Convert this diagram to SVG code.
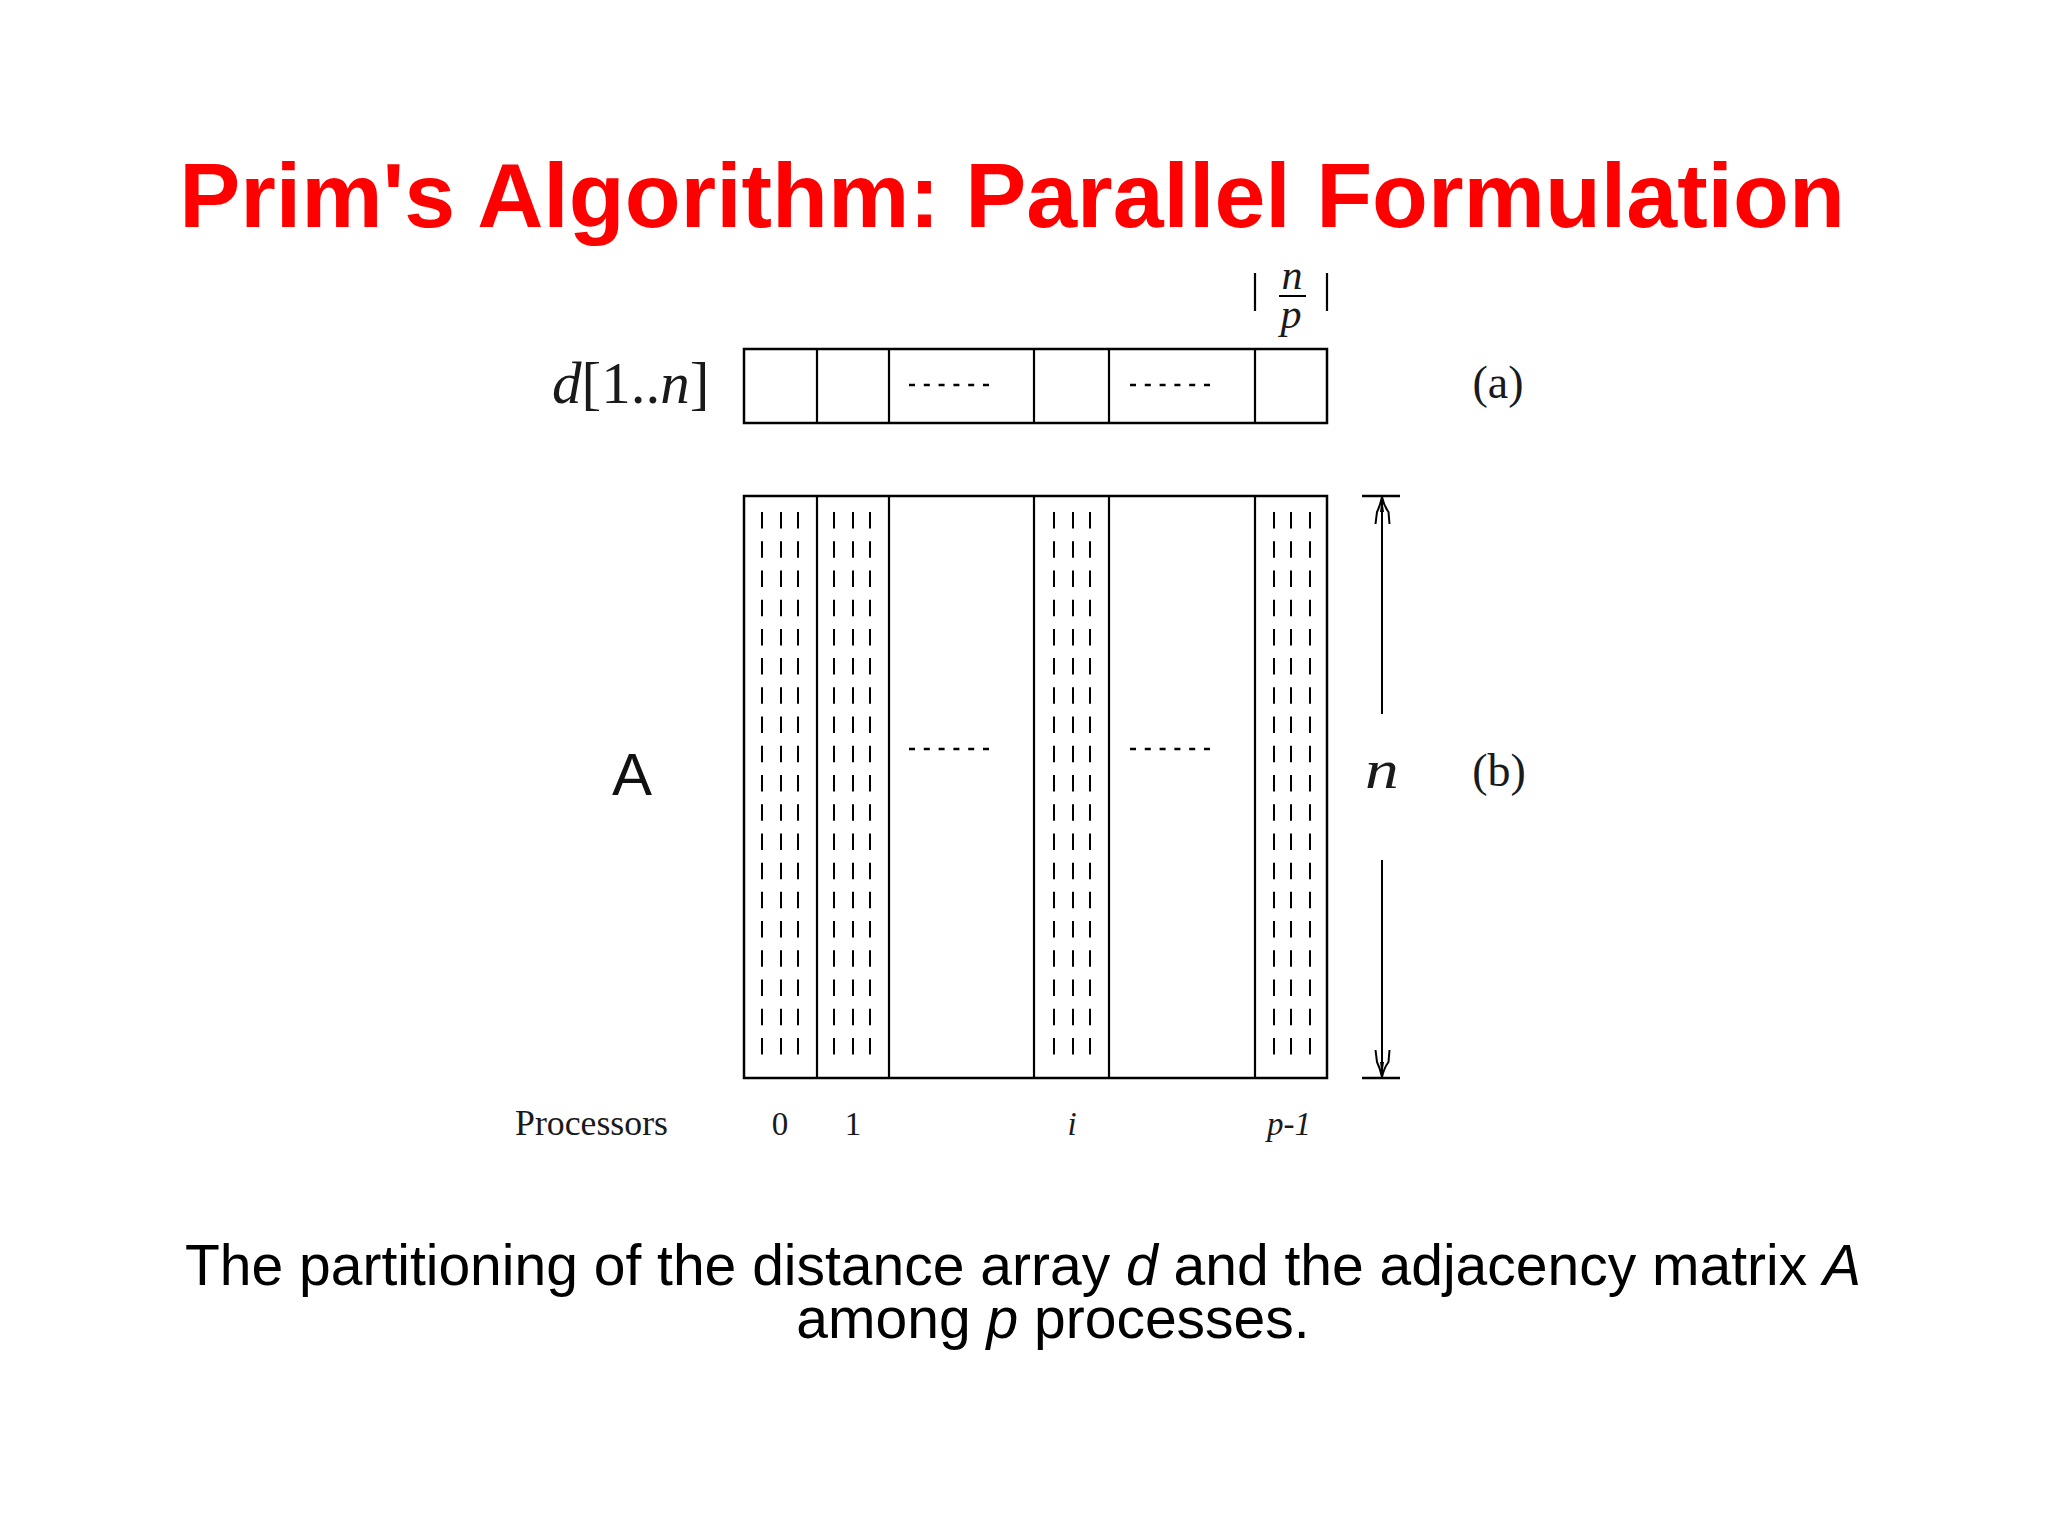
<svg xmlns="http://www.w3.org/2000/svg" width="2048" height="1536" viewBox="0 0 2048 1536">
<style>
.box{fill:none;stroke:#000;stroke-width:2.5}
.col{stroke:#000;stroke-width:2.2}
.vd{stroke:#000;stroke-width:2;stroke-dasharray:16.5 12.72}
.hd{stroke:#000;stroke-width:2.5;stroke-dasharray:6 8.8}
.serif{font-family:"Liberation Serif","DejaVu Serif",serif;fill:#1a1a1a}
.it{font-style:italic}
.sans{font-family:"Liberation Sans",Arial,sans-serif}
</style>
<rect width="2048" height="1536" fill="#fff"/>
<g id="title">
<text x="1012" y="227" class="sans" font-size="91.5" font-weight="bold" fill="#ff0000" text-anchor="middle">Prim's Algorithm: Parallel Formulation</text>
</g>
<g id="array-d">
<rect class="box" x="744" y="349" width="583" height="74"/>
<line class="col" x1="817" y1="349" x2="817" y2="423"/>
<line class="col" x1="889" y1="349" x2="889" y2="423"/>
<line class="col" x1="1034" y1="349" x2="1034" y2="423"/>
<line class="col" x1="1109" y1="349" x2="1109" y2="423"/>
<line class="col" x1="1255" y1="349" x2="1255" y2="423"/>
<line class="hd" x1="909" y1="385" x2="990" y2="385"/>
<line class="hd" x1="1130" y1="385" x2="1211" y2="385"/>
<text x="552" y="403" class="serif" font-size="59" fill="#333"><tspan class="it">d</tspan>[1..<tspan class="it">n</tspan>]</text>
<text x="1498" y="398" class="serif" font-size="46" text-anchor="middle">(a)</text>
</g>
<g id="block-size">
<line class="col" x1="1255" y1="273" x2="1255" y2="311" stroke-width="2"/>
<line class="col" x1="1327" y1="273" x2="1327" y2="311" stroke-width="2"/>
<text x="1292" y="289" class="serif it" font-size="42" text-anchor="middle">n</text>
<line x1="1279" y1="296" x2="1306" y2="296" stroke="#000" stroke-width="2"/>
<text x="1291" y="328" class="serif it" font-size="42" text-anchor="middle">p</text>
</g>
<g id="matrix-A">
<rect class="box" x="744" y="496" width="583" height="582"/>
<line class="col" x1="817" y1="496" x2="817" y2="1078"/>
<line class="col" x1="889" y1="496" x2="889" y2="1078"/>
<line class="col" x1="1034" y1="496" x2="1034" y2="1078"/>
<line class="col" x1="1109" y1="496" x2="1109" y2="1078"/>
<line class="col" x1="1255" y1="496" x2="1255" y2="1078"/>
<g id="col-0">
<line class="vd" x1="762" y1="512" x2="762" y2="1055"/>
<line class="vd" x1="781" y1="512" x2="781" y2="1055"/>
<line class="vd" x1="798" y1="512" x2="798" y2="1055"/>
</g>
<g id="col-1">
<line class="vd" x1="834" y1="512" x2="834" y2="1055"/>
<line class="vd" x1="853" y1="512" x2="853" y2="1055"/>
<line class="vd" x1="870" y1="512" x2="870" y2="1055"/>
</g>
<g id="col-i">
<line class="vd" x1="1054" y1="512" x2="1054" y2="1055"/>
<line class="vd" x1="1073" y1="512" x2="1073" y2="1055"/>
<line class="vd" x1="1090" y1="512" x2="1090" y2="1055"/>
</g>
<g id="col-p-1">
<line class="vd" x1="1274" y1="512" x2="1274" y2="1055"/>
<line class="vd" x1="1291" y1="512" x2="1291" y2="1055"/>
<line class="vd" x1="1310" y1="512" x2="1310" y2="1055"/>
</g>
<line class="hd" x1="909" y1="749" x2="990" y2="749"/>
<line class="hd" x1="1130" y1="749" x2="1211" y2="749"/>
<text x="632" y="795" class="sans" font-size="60" fill="#111" text-anchor="middle">A</text>
<text x="1499" y="786" class="serif" font-size="46" text-anchor="middle">(b)</text>
</g>
<g id="connectors">
<line x1="1362" y1="496" x2="1400" y2="496" stroke="#000" stroke-width="2.5"/>
<line x1="1362" y1="1078" x2="1400" y2="1078" stroke="#000" stroke-width="2.5"/>
<line x1="1382" y1="497" x2="1382" y2="714" stroke="#000" stroke-width="2"/>
<line x1="1382" y1="860" x2="1382" y2="1077" stroke="#000" stroke-width="2"/>
<path d="M1375.5,524 L1377,512 Q1380,506 1382,497 Q1384,506 1388.5,512 L1389.5,524" fill="none" stroke="#000" stroke-width="2"/>
<path d="M1380,512 L1382,498 L1384,512 Z" fill="#000"/>
<path d="M1375.5,1050 L1377,1062 Q1380,1068 1382,1077 Q1384,1068 1388.5,1062 L1389.5,1050" fill="none" stroke="#000" stroke-width="2"/>
<path d="M1380,1062 L1382,1076 L1384,1062 Z" fill="#000"/>
<text x="1382" y="788" class="serif it" font-size="54" fill="#333" text-anchor="middle" transform="translate(1382 0) scale(1.25 1) translate(-1382 0)">n</text>
</g>
<g id="processors">
<text x="515" y="1135" class="serif" font-size="35" textLength="153" lengthAdjust="spacingAndGlyphs">Processors</text>
<text x="780" y="1135" class="serif" font-size="33" text-anchor="middle">0</text>
<text x="853" y="1135" class="serif" font-size="33" text-anchor="middle">1</text>
<text x="1072" y="1135" class="serif it" font-size="33" text-anchor="middle">i</text>
<text x="1289" y="1135" class="serif it" font-size="33" text-anchor="middle">p-1</text>
</g>
<g id="caption">
<text x="1023" y="1285" class="sans" font-size="57" fill="#000" text-anchor="middle">The partitioning of the distance array <tspan font-style="italic">d</tspan> and the adjacency matrix <tspan font-style="italic">A</tspan></text>
<text x="1053" y="1338" class="sans" font-size="57" fill="#000" text-anchor="middle">among <tspan font-style="italic">p</tspan> processes.</text>
</g>
</svg>
